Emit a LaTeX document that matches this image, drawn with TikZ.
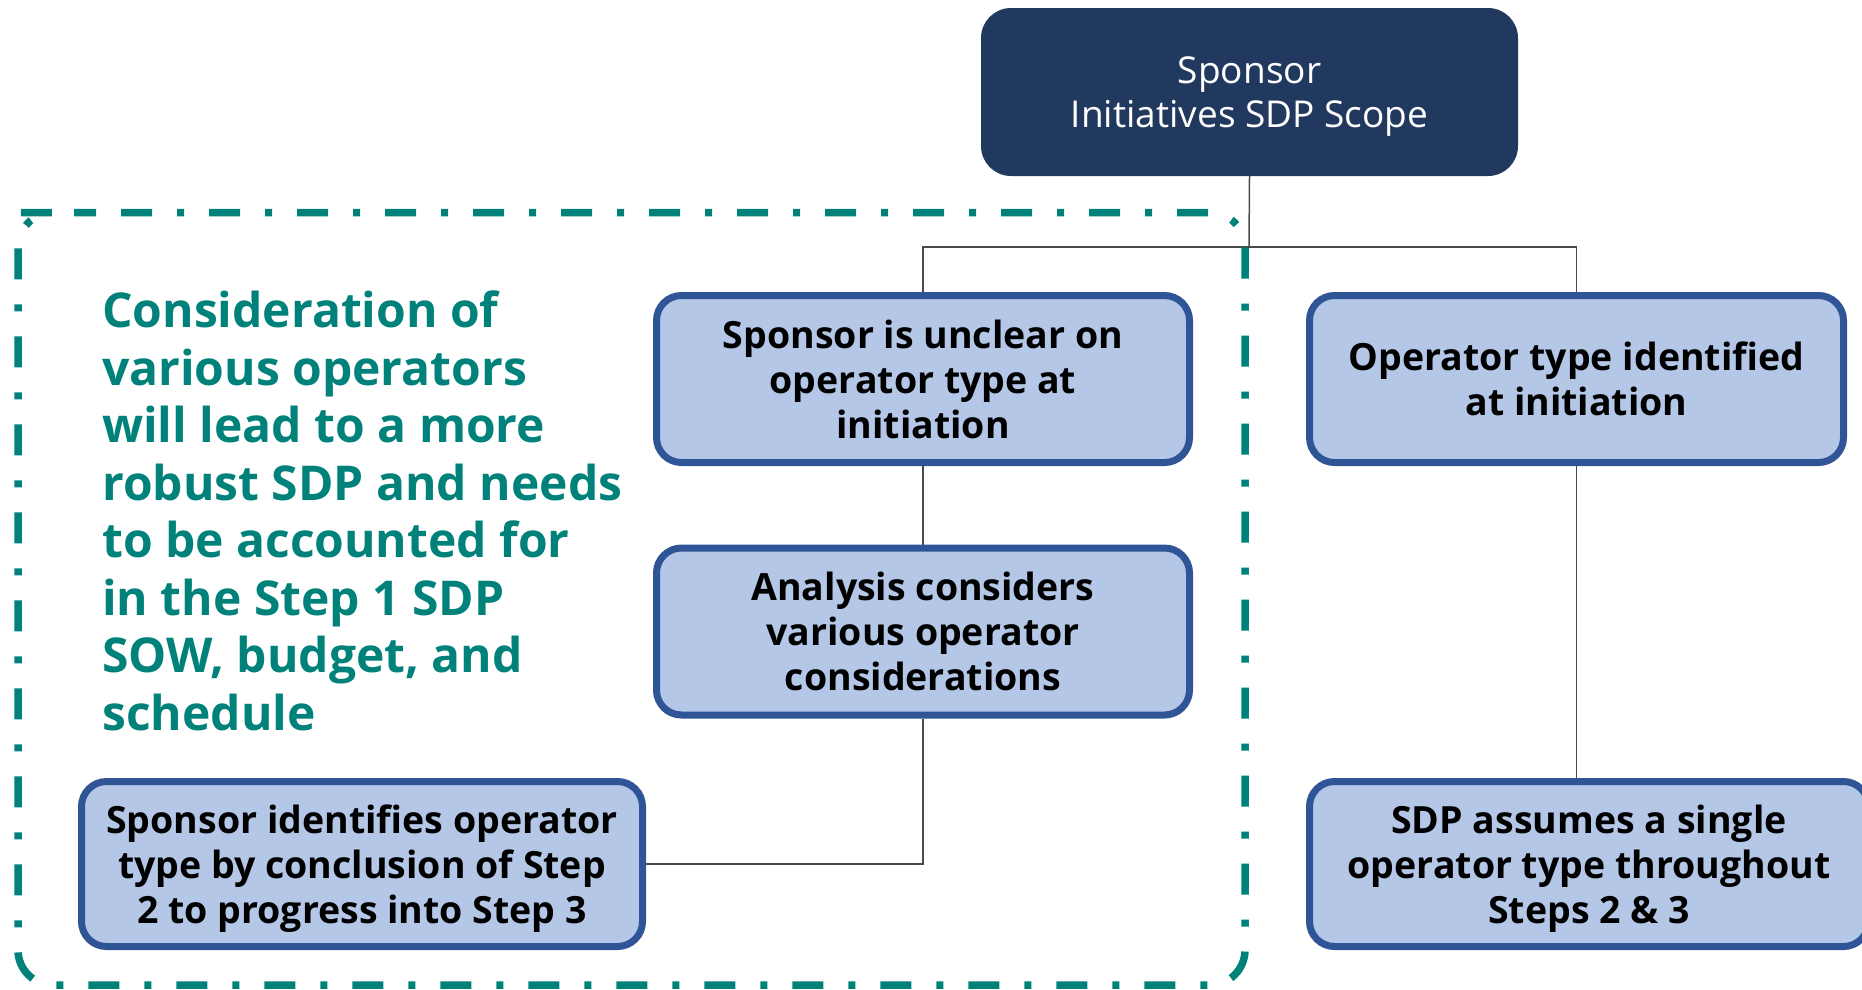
\documentclass[tikz,border=0pt]{standalone}
\usepackage{fontspec}
\setmainfont{Open Sans}
\usetikzlibrary{backgrounds}
\definecolor{navy}{HTML}{22395F}
\definecolor{lightblue}{HTML}{B4C7E7}
\definecolor{boxborder}{HTML}{2F5597}
\definecolor{teal}{HTML}{00827A}
\definecolor{conn}{HTML}{4A4A4A}
\begin{document}
\begin{tikzpicture}[x=1pt,y=-1pt,
  topbox/.style={fill=navy, rounded corners=30pt, minimum width=537pt, minimum height=168pt,
    text=white, align=center, font=\fontsize{37}{44}\selectfont, inner sep=0pt, text depth=-2pt},
  stepbox/.style={fill=lightblue, draw=boxborder, line width=7pt, rounded corners=25pt,
    align=center, font=\fontsize{37.5}{45}\selectfont\bfseries, inner sep=0pt, text depth=0pt},
  conline/.style={draw=conn, line width=1.5pt},
  frame/.style={draw=teal, line width=7.5pt, rounded corners=35pt,
    dash pattern=on 7pt off 25pt on 31pt off 25pt},
  note/.style={text=teal, align=left, anchor=west, inner sep=0pt,
    font=\fontsize{48}{57.5}\selectfont\bfseries}]
\useasboundingbox (0,0) rectangle (1862,989);
\clip (0,0) rectangle (1862,989);

\node[topbox] (top) at (1249.5,92) {Sponsor\\Initiatives SDP Scope};
\node[stepbox, minimum width=533pt, minimum height=167pt] (A) at (923,379)
  {Sponsor is unclear on\\operator type at\\initiation};
\node[stepbox, minimum width=533pt, minimum height=167pt] (B) at (923,631.5)
  {Analysis considers\\various operator\\considerations};
\node[stepbox, minimum width=561pt, minimum height=165pt] (C) at (362,864)
  {Sponsor identifies operator\\type by conclusion of Step\\2 to progress into Step 3};
\node[stepbox, minimum width=534pt, minimum height=167pt] (D) at (1576.5,379)
  {Operator type identified\\at initiation};
\node[stepbox, minimum width=559pt, minimum height=165pt] (E) at (1589,864)
  {SDP assumes a single\\operator type throughout\\Steps 2 \& 3};

\node[note] (N) at (102,511) {Consideration of\\various operators\\will lead to a more\\robust SDP and needs\\to be accounted for\\in the Step 1 SDP\\SOW, budget, and\\schedule};

\coordinate (j) at (1249,247);
\begin{scope}[on background layer]
  \draw[conline] (top.south) -- (j);
  \draw[conline] (A.north) |- (j);
  \draw[conline] (D.north) |- (j);
  \draw[conline] (A.south) -- (B.north);
  \draw[conline] (B.south) |- (C.east);
  \draw[conline] (D.south) -- (D.south |- E.north);
\end{scope}

\draw[frame] (54,212.5) -- (1245,212.5) -- (1245,985) -- (18,985) -- (18,212.5) -- cycle;
\end{tikzpicture}
\end{document}
